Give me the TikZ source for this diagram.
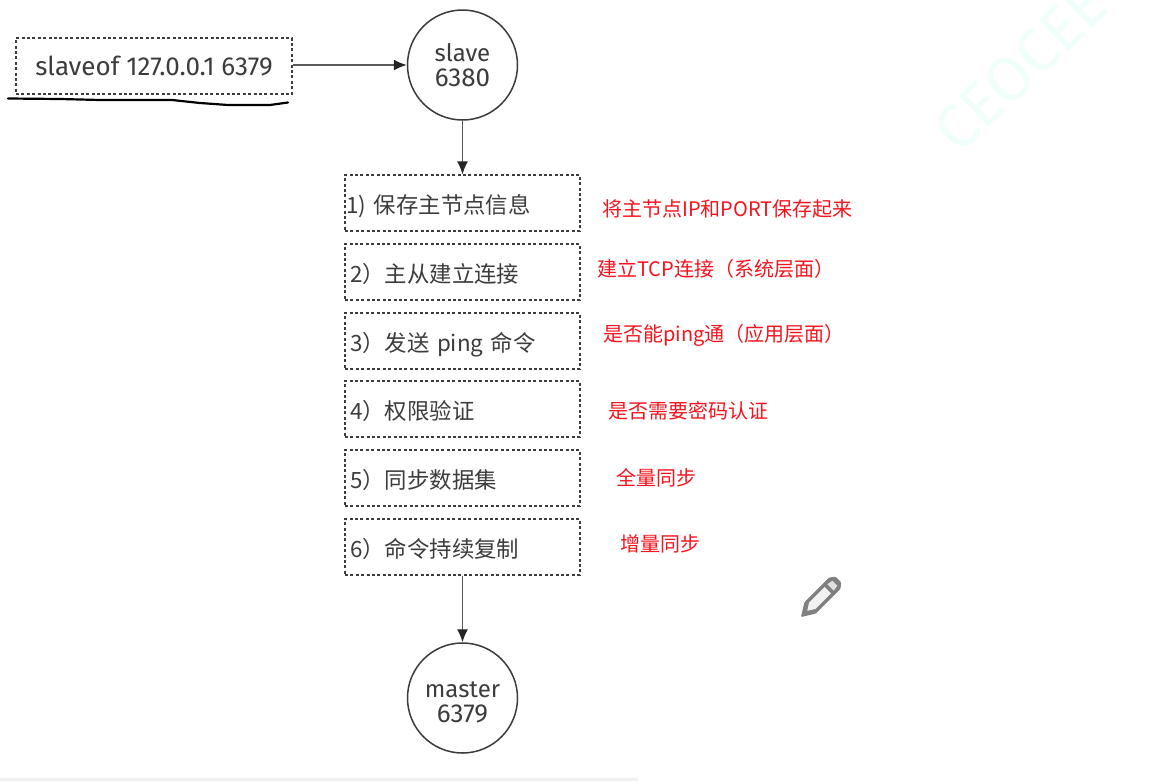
\documentclass[tikz,border=0pt]{standalone}
\usepackage{fontspec}
\setmainfont{Fira Sans}
\newfontfamily\cjk{Noto Sans CJK SC}
\usetikzlibrary{arrows.meta}
\definecolor{ink}{HTML}{3C3C3C}
\definecolor{redtxt}{HTML}{F5141E}
\definecolor{wmfill}{HTML}{F0FFFC}
\newcommand{\bignum}[1]{{\fontsize{26}{26}\selectfont #1}}
\tikzset{
  dashbox/.style={draw=ink, line width=1.2pt, dash pattern=on 3pt off 2.4pt, text=ink, inner sep=0pt},
  stepbox/.style={dashbox, minimum width=235pt, minimum height=56pt, text width=232pt, align=left, text height=20pt, text depth=0pt, font=\cjk\fontsize{22.4}{26}\selectfont},
  circ/.style={circle, draw=ink, line width=1.5pt, minimum size=110pt, inner sep=0pt, align=center, text=ink, font=\fontsize{24}{25}\selectfont},
  link/.style={draw=ink!85, line width=1.4pt, -{Latex[length=13pt,width=11pt,color=black!85]}},
  note/.style={anchor=west, inner sep=0pt, text=redtxt, font=\cjk\fontsize{20}{24}\selectfont},
  wm/.style={rotate=44, font=\fontsize{62}{62}\selectfont}
}
\begin{document}
\begin{tikzpicture}[x=1pt,y=-1pt]
\useasboundingbox (0,0) rectangle (1159,782);
\fill[white] (0,0) rectangle (1159,782);
% watermark
\begin{scope}
\clip (0,0) rectangle (1159,782);
\node[wm, text=wmfill] (mark) at (1021,67) {CEOCEE};
\end{scope}
% faint page edge
\fill[black!6] (0,778) rectangle (638,781);
% nodes
\node[dashbox, minimum width=276pt, minimum height=56pt, font=\fontsize{26}{28}\selectfont] (cmd) at (154,66) {slaveof 127.0.0.1 6379};
\node[circ] (slave) at (462.5,65) {slave\\\bignum{6380}};
\node[stepbox] (s1) at (462.5,203) {1) 保存主节点信息};
\node[stepbox] (s2) at (462.5,272) {\hspace*{3.5pt}2）主从建立连接};
\node[stepbox] (s3) at (462.5,341) {\hspace*{3.5pt}3）发送 ping 命令};
\node[stepbox] (s4) at (462.5,409) {\hspace*{3.5pt}4）权限验证};
\node[stepbox] (s5) at (462.5,478) {\hspace*{3.5pt}5）同步数据集};
\node[stepbox] (s6) at (462.5,547) {\hspace*{3.5pt}6）命令持续复制};
\node[circ] (master) at (462.5,698) {\rule{0pt}{25pt}master\\\bignum{6379}};
% connectors
\draw[link] (cmd.east |- slave.west) -- (slave.west);
\draw[link] (slave.south) -- (s1.north);
\draw[link] (s6.south) -- (master.north);
% red notes
\node[note] (n1) at (602,209) {将主节点IP和PORT保存起来};
\node[note] (n2) at (597,269) {建立TCP连接（系统层面）};
\node[note] (n3) at (603,335) {是否能ping通（应用层面）};
\node[note] (n4) at (608,410.5) {是否需要密码认证};
\node[note] (n5) at (616,477.5) {全量同步};
\node[note] (n6) at (620,543.5) {增量同步};
% freehand underline
\draw[black, line width=2.2pt, line cap=round, line join=round]
  (8,98.5) -- (60,99) -- (100,100) -- (172,100) -- (200,103) -- (228,105) -- (270,105) -- (288,102.5);
% pencil
\begin{scope}[shift={(820,598)}, rotate=45]
  \fill[black!50, rounded corners=1pt] (-27,0) -- (-14,-8) -- (21,-8) -- (26,-4) -- (26,4) -- (21,8) -- (-14,8) -- cycle;
  \fill[black!5] (-18,0) -- (-11,-4.5) -- (11,-4.5) -- (11,4.5) -- (-11,4.5) -- cycle;
  \fill[black!12] (15,-4.5) -- (21,-3.5) -- (21,3.5) -- (15,4.5) -- cycle;
\end{scope}
\end{tikzpicture}
\end{document}
